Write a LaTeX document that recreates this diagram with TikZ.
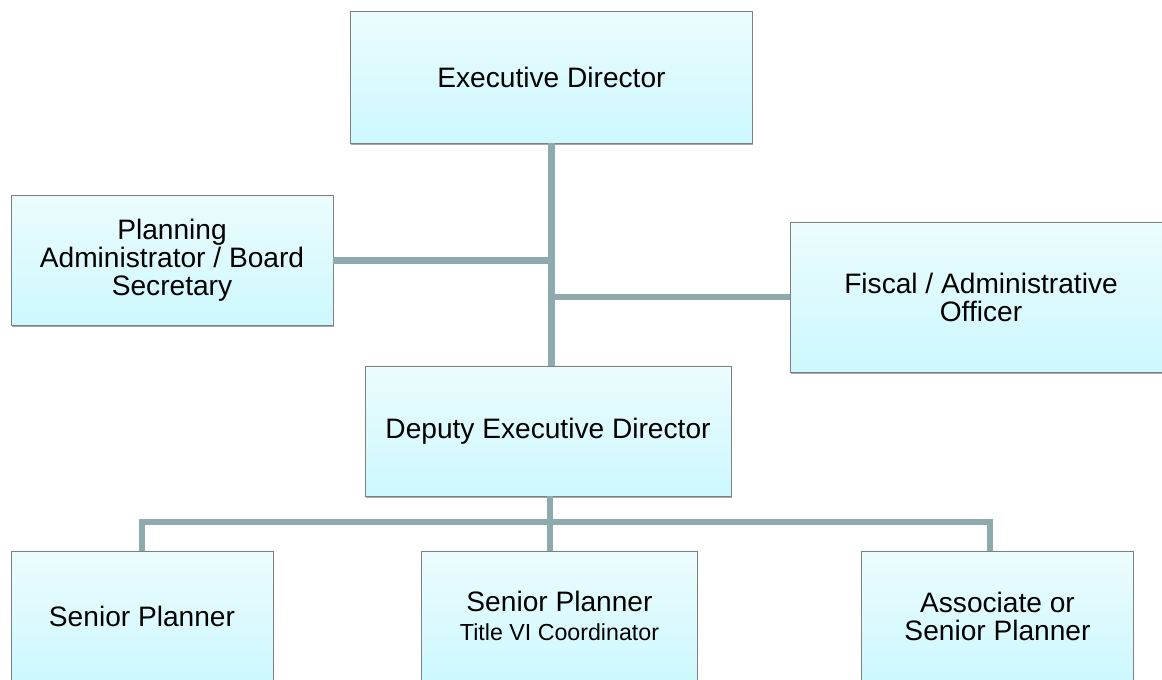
\documentclass[tikz,border=0pt]{standalone}
\usepackage{fontspec}
\setmainfont{Liberation Sans}
\usetikzlibrary{shadows}

\definecolor{boxtop}{RGB}{236,252,253}
\definecolor{boxbottom}{RGB}{204,248,254}
\definecolor{boxline}{RGB}{128,128,128}
\definecolor{linkcolor}{RGB}{143,170,173}

\tikzset{
    orgbox/.style={draw=boxline, line width=0.6pt, top color=boxtop, bottom color=boxbottom,
        inner sep=0pt, outer sep=0pt, align=center,
        font=\fontsize{20}{20}\selectfont,
        drop shadow={shadow xshift=0.4pt, shadow yshift=-1.4pt, fill=black, opacity=0.35}},
    link/.style={draw=linkcolor, line width=4.3pt}
}

\begin{document}
\begin{tikzpicture}[x=0.025cm, y=-0.025cm]

    \useasboundingbox (0,0) rectangle (1162,679);

    %% Top of the chart

    % Director
    \node[orgbox, minimum width=10.03cm, minimum height=3.28cm] (exec) at (551.5,77.5) {Executive Director};

    % Staff beside the trunk
    \node[orgbox, minimum width=8.05cm, minimum height=3.23cm] (plan) at (172,260.5)
        {Planning\\Administrator / Board\\Secretary};
    \node[orgbox, minimum width=9.55cm, minimum height=3.75cm] (fisc) at (981,297)
        {Fiscal / Administrative\\Officer};

    % Deputy
    \node[orgbox, minimum width=9.15cm, minimum height=3.25cm] (dep) at (548,431) {Deputy Executive Director};

    %% Planners

    \node[orgbox, minimum width=6.55cm, minimum height=3.25cm] (sp1) at (142,616) {Senior Planner};
    \node[orgbox, minimum width=6.88cm, minimum height=3.25cm] (sp2) at (559.5,616)
        {Senior Planner\\[1pt]{\fontsize{16.5}{16.5}\selectfont Title VI Coordinator}};
    \node[orgbox, minimum width=6.78cm, minimum height=3.25cm] (sp3) at (997.5,616)
        {Associate or\\Senior Planner};

    %% Connectors

    % Trunk
    \draw[link] (exec.south) -- (exec.south |- dep.north);
    \draw[link] (plan.east) -- (plan.east -| exec.south);
    \draw[link] (fisc.west) -- (fisc.west -| exec.south);

    % Bus to the planners
    \coordinate (bus) at (550,522);
    \draw[link] (dep.south -| bus) -- (bus);
    \draw[link] (sp1.north) |- ([xshift=-0.19cm]sp3.north |- bus) -- ([xshift=-0.19cm]sp3.north);
    \draw[link] (bus) -- (bus |- sp2.north);

\end{tikzpicture}
\end{document}
